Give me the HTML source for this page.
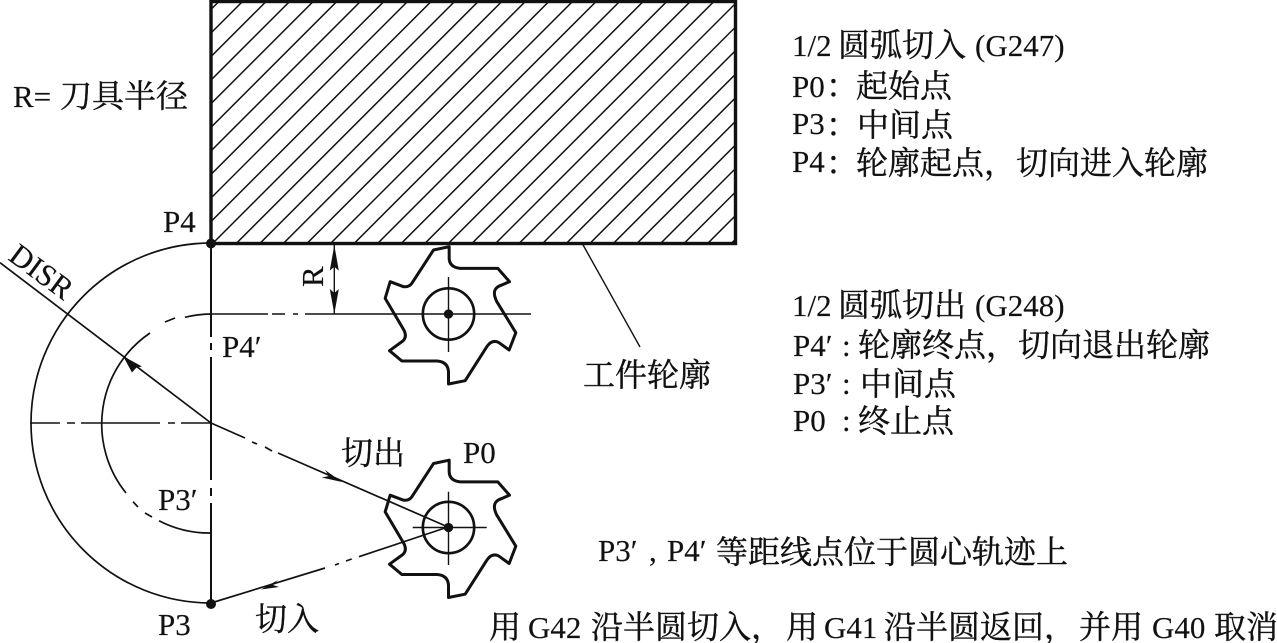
<!DOCTYPE html>
<html lang="zh">
<head>
<meta charset="utf-8">
<title>圆弧切入切出</title>
<style>
html,body{margin:0;padding:0;background:#fff;width:1277px;height:643px;overflow:hidden}
svg{display:block}
text{font-family:"Liberation Serif","Noto Serif CJK SC",serif;font-size:31px;fill:#111;stroke:#111;stroke-width:.15}
.c{font-size:32px;stroke-width:.4}
.l{fill:none;stroke:#111;stroke-width:1.7}
.t{fill:none;stroke:#111;stroke-width:1.4}
</style>
</head>
<body>
<svg width="1277" height="643" viewBox="0 0 1277 643" xmlns="http://www.w3.org/2000/svg">
<defs>
<clipPath id="rc"><rect x="211" y="1" width="525" height="243"/></clipPath>
<g id="cut">
<path d="M477 50L430 60L365 160Q357 172 340 170L300 155L285 205L340 298Q352 320 338 333L298 362L335 393H440Q473 395 475 425V462L525 452L590 350Q605 328 625 337L657 360L677 308L620 215Q600 175 635 165L658 155L623 115H510Q478 112 477 85Z" fill="none" stroke="#111" stroke-width="9" stroke-linejoin="round"/>
<circle cx="475" cy="252" r="77" fill="none" stroke="#111" stroke-width="8"/>
<circle cx="475" cy="252" r="14" fill="#111"/>
</g>
</defs>
<rect width="1277" height="643" fill="#fff"/>

<!-- workpiece -->
<path clip-path="url(#rc)" fill="none" stroke="#111" stroke-width="1.5" d="M220.4 0L0 220.4M244 0L0 244M267.6 0L0 267.6M291.1 0L0 291.1M314.7 0L0 314.7M338.3 0L0 338.3M361.9 0L0 361.9M385.4 0L0 385.4M409 0L0 409M432.6 0L0 432.6M456.1 0L0 456.1M479.7 0L0 479.7M503.3 0L0 503.3M526.8 0L0 526.8M550.4 0L0 550.4M574 0L0 574M597.6 0L0 597.6M621.1 0L0 621.1M644.7 0L0 644.7M668.3 0L0 668.3M691.8 0L0 691.8M715.4 0L0 715.4M739 0L0 739M762.5 0L0 762.5M786.1 0L0 786.1M809.7 0L0 809.7M833.3 0L0 833.3M856.8 0L0 856.8M880.4 0L0 880.4M904 0L0 904M927.5 0L0 927.5M951.1 0L0 951.1M974.7 0L0 974.7"/>
<rect x="211" y="1.5" width="524.5" height="242" fill="none" stroke="#111" stroke-width="3.4"/>

<!-- arcs -->
<path class="l" d="M211 243A180 180 0 0 0 211 603"/>
<path class="l" d="M211 314A110 110 0 0 0 185 317.3"/>
<path class="l" d="M175 318L165 322"/>
<path class="l" d="M150 333A110 110 0 0 0 126 493"/>
<path class="l" d="M133 501.7L138 507M145 513L152 517"/>
<path class="l" d="M159 520.7A110 110 0 0 0 211 533"/>

<!-- vertical axis -->
<path class="l" style="stroke-width:2" d="M211 243V337M211 343V350M211 357V480M211 488V496M211 503V603"/>
<!-- horizontal axis -->
<path class="t" d="M30 423H60M67 423H75M81 423H160M168 423H175M181 423H211"/>
<!-- top line to cutter -->
<path class="t" d="M211 314H268M272 314H285M293 314H298M305 314H531"/>
<path class="t" d="M448.5 277V352"/>

<!-- DISR line -->
<path class="l" d="M0 262.7L211 423"/>
<path d="M123 356L142 366.5L136.5 367.5L132 372.5Z" fill="#111"/>

<!-- center to P0 -->
<path class="l" d="M211 423L245 438M252 442L257 444M265 447L272 451M278 453L448 527"/>
<path d="M342 482L325 470L329 476L321.7 477.5Z" fill="#111"/>

<!-- P3 to P0 -->
<path class="l" d="M211 603L325 568M335 565L339 563.5M346 561L351.7 559M359 556.7L448 527"/>
<path d="M261 589.5L278 580L273 585L279 587Z" fill="#111"/>

<!-- points -->
<circle cx="211" cy="243.5" r="5" fill="#111"/>
<circle cx="211" cy="604" r="5" fill="#111"/>

<!-- cutters -->
<use href="#cut" transform="translate(448.5 314) scale(.3333) translate(-475 -252)"/>
<use href="#cut" transform="translate(448.5 527.5) scale(.3333) translate(-475 -252)"/>
<path class="t" d="M412.7 527.5H486.7M448.5 491.7V565"/>

<!-- R dimension -->
<path class="t" d="M334.3 245V314"/>
<path d="M334.3 245L338.8 270.6L334.3 266.7L329.8 270.6Z" fill="#111"/>
<path d="M334.3 314L338.8 289L334.3 293L329.8 289Z" fill="#111"/>
<text transform="translate(323 287) rotate(-90)">R</text>

<!-- leader -->
<path class="t" d="M582 243L640 347"/>

<!-- left labels -->
<text x="13" y="107">R=</text>
<text x="60" y="107" class="c">刀具半径</text>
<text x="163" y="232">P4</text>
<text x="222" y="357">P4′</text>
<text x="158" y="510">P3′</text>
<text x="158" y="635">P3</text>
<text x="255" y="630" class="c">切入</text>
<text x="341" y="464" class="c">切出</text>
<text x="463" y="463">P0</text>
<text x="583" y="386" class="c">工件轮廓</text>
<text transform="translate(7 259) rotate(36.5)">DISR</text>

<!-- right block 1 -->
<text x="792" y="56">1/2</text>
<text x="838" y="56" class="c">圆弧切入</text>
<text x="975" y="56">(G247)</text>
<text x="792" y="97">P0</text><text x="826" y="97" class="c">：</text>
<text x="856" y="97" class="c">起始点</text>
<text x="792" y="134">P3</text><text x="826" y="136" class="c">：</text>
<text x="857" y="136" class="c">中间点</text>
<text x="792" y="172">P4</text><text x="826" y="174" class="c">：</text>
<text x="856" y="174" class="c">轮廓起点，切向进入轮廓</text>

<!-- right block 2 -->
<text x="792" y="316">1/2</text>
<text x="838" y="316" class="c">圆弧切出</text>
<text x="975" y="316">(G248)</text>
<text x="793" y="356">P4′</text><text x="842" y="356">:</text>
<text x="858" y="356" class="c">轮廓终点，切向退出轮廓</text>
<text x="793" y="394">P3′</text><text x="842" y="394">:</text>
<text x="860" y="395" class="c">中间点</text>
<text x="793" y="431">P0</text><text x="842" y="431">:</text>
<text x="858" y="432" class="c">终止点</text>

<!-- note -->
<text x="598" y="561">P3′</text><text x="649" y="561">,</text>
<text x="667" y="561">P4′</text>
<text x="716" y="563" class="c">等距线点位于圆心轨迹上</text>

<!-- bottom line -->
<text x="489" y="638" class="c">用</text>
<text x="528" y="638">G42</text>
<text x="591" y="638" class="c">沿半圆切入，</text>
<text x="786" y="638" class="c">用</text>
<text x="824" y="638">G41</text>
<text x="884" y="638" class="c">沿半圆返回，</text>
<text x="1079" y="638" class="c">并用</text>
<text x="1152" y="638">G40</text>
<text x="1214" y="638" class="c">取消</text>
</svg>
</body>
</html>
